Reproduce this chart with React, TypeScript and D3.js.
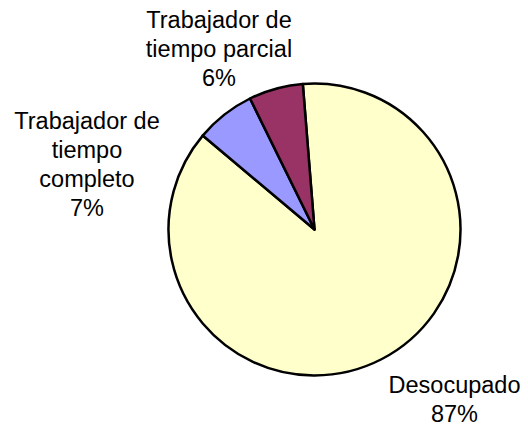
import React from "react";
import * as d3 from "d3";

const categories = ["Desocupado", "Trabajador de tiempo completo", "Trabajador de tiempo parcial"];
const values = [87.4, 6.6, 6.0];
const colors = ["#FFFFCC", "#9999FF", "#993366"];
// label lines, split as in the original chart
const labelLines = [
  ["Desocupado", "87%"],
  ["Trabajador de", "tiempo", "completo", "7%"],
  ["Trabajador de", "tiempo parcial", "6%"],
];

const width = 528;
const height = 428;
const cx = 314.5;
const cy = 229.5;
const radius = 146;
const fontSize = 23.5;
const lineHeight = 29.2;
const startDeg = -4.6;

const App = () => {
  const pie = d3
    .pie<number>()
    .sort(null)
    .value(d => d)
    .startAngle((startDeg * Math.PI) / 180)
    .endAngle((startDeg * Math.PI) / 180 + 2 * Math.PI);
  const arcs = pie(values);
  const arc = d3.arc<d3.PieArcDatum<number>>().innerRadius(0).outerRadius(radius);

  // x center and first baseline of each label block
  const labelPos: [number, number][] = [
    [454.5, 393],
    [87, 128.5],
    [219, 27.5],
  ];

  return (
    <svg
      width={width}
      height={height}
      style={{ position: "absolute", left: 0, top: 0, background: "#fff" }}
      fontFamily="'Liberation Sans', Arial, sans-serif"
    >
      <g transform={`translate(${cx},${cy})`}>
        {arcs.map((a, i) => (
          <path
            key={categories[i]}
            d={arc(a) || ""}
            fill={colors[i]}
            stroke="#000"
            strokeWidth={2.5}
            strokeLinejoin="round"
          />
        ))}
      </g>
      {labelLines.map((lines, i) => {
        const [x, y] = labelPos[i];
        return (
          <text key={categories[i]} textAnchor="middle" fontSize={fontSize} fill="#000">
            {lines.map((l, j) => (
              <tspan key={j} x={x} y={y + j * lineHeight}>
                {l}
              </tspan>
            ))}
          </text>
        );
      })}
    </svg>
  );
};

export default App;
